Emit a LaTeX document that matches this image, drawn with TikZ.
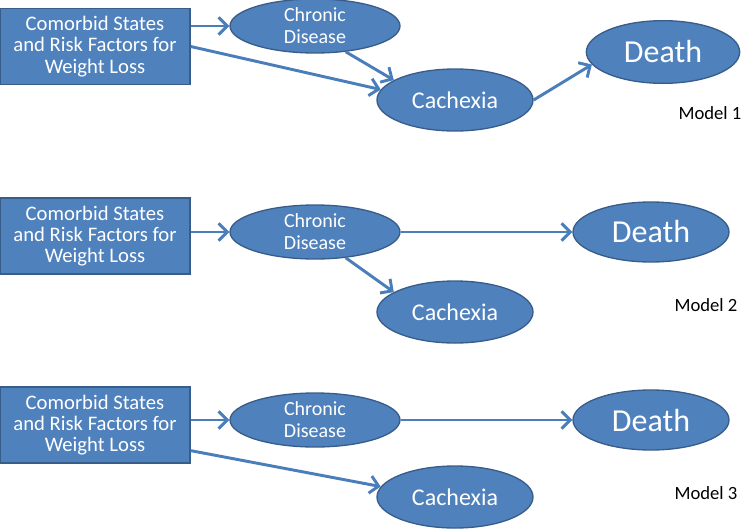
\documentclass[tikz,border=0pt]{standalone}
\usepackage{fontspec}
\setmainfont{Carlito}
\usetikzlibrary{positioning, shapes, arrows.meta}

\definecolor{nodeblue}{RGB}{79,129,189}
\definecolor{edgeblue}{RGB}{56,93,138}
\definecolor{linkblue}{RGB}{74,126,187}

\begin{document}
\begin{tikzpicture}[x=0.75pt, y=-0.75pt,
  riskbox/.style={draw=edgeblue, line width=1pt, fill=nodeblue, rectangle, text=white, align=center,
    minimum width=142.5pt, minimum height=57pt, inner sep=0pt, font=\fontsize{15.5}{16}\selectfont},
  stateell/.style={draw=edgeblue, line width=1pt, fill=nodeblue, ellipse, text=white, align=center,
    minimum width=117pt, minimum height=46.5pt, inner sep=0pt},
  link/.style={draw=linkblue, line width=2.2pt, -{Straight Barb[length=6.5pt, width=13pt]}},
  modeltag/.style={font=\fontsize{14}{17}\selectfont}]
  \useasboundingbox (0,0) rectangle (742,529);

  % Model 1
  \node[riskbox] (box1) at (95,46.5) {Comorbid States\\and Risk Factors for\\Weight Loss};
  \node[stateell, minimum width=127.5pt, minimum height=40.5pt, font=\fontsize{15}{16.5}\selectfont] (chr1) at (315,26) {Chronic\\Disease};
  \node[stateell, font=\fontsize{18}{20}\selectfont] (cach1) at (455,100) {Cachexia};
  \node[stateell, minimum width=115pt, minimum height=47pt, font=\fontsize{24}{26}\selectfont] (death1) at (663,52) {Death};
  \node[modeltag] (lab1) at (710,113) {Model 1};
  \draw[link] (box1.east |- chr1.west) -- (chr1.west);
  \draw[link] (box1.east) -- (cach1.172);
  \draw[link] (chr1.-40) -- (cach1.162);
  \draw[link] (cach1.east) -- (death1.190);

  % Model 2
  \node[riskbox] (box2) at (95,236) {Comorbid States\\and Risk Factors for\\Weight Loss};
  \node[stateell, minimum width=127.5pt, minimum height=40.5pt, font=\fontsize{15}{16.5}\selectfont] (chr2) at (315,232) {Chronic\\Disease};
  \node[stateell, font=\fontsize{18}{20}\selectfont] (cach2) at (455,312) {Cachexia};
  \node[stateell, minimum height=45pt, font=\fontsize{24}{26}\selectfont] (death2) at (651,232) {Death};
  \node[modeltag] (lab2) at (706,305) {Model 2};
  \draw[link] (box2.east |- chr2.west) -- (chr2.west);
  \draw[link] (chr2.east) -- (death2.west);
  \draw[link] (chr2.-40) -- (cach2.162);

  % Model 3
  \node[riskbox] (box3) at (95,425) {Comorbid States\\and Risk Factors for\\Weight Loss};
  \node[stateell, minimum width=127.5pt, minimum height=40.5pt, font=\fontsize{15}{16.5}\selectfont] (chr3) at (315,420) {Chronic\\Disease};
  \node[stateell, font=\fontsize{18}{20}\selectfont] (cach3) at (455,497) {Cachexia};
  \node[stateell, minimum height=45pt, font=\fontsize{24}{26}\selectfont] (death3) at (651,420) {Death};
  \node[modeltag] (lab3) at (706,493) {Model 3};
  \draw[link] (box3.east |- chr3.west) -- (chr3.west);
  \draw[link] (chr3.east) -- (death3.west);
  \draw[link] (box3.-15) -- (cach3.172);
\end{tikzpicture}
\end{document}
